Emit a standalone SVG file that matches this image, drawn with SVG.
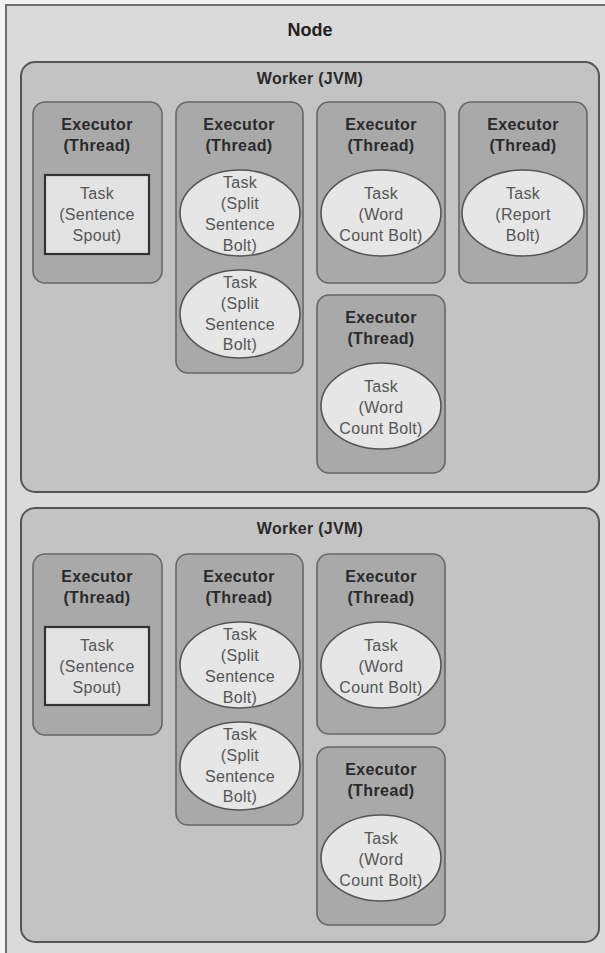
<svg xmlns="http://www.w3.org/2000/svg" width="605" height="953" viewBox="0 0 605 953">
  <style>
    .node-box { fill: #dadada; stroke: #6e6e6e; stroke-width: 2; }
    .worker { fill: #c3c3c3; stroke: #555; stroke-width: 2; }
    .executor { fill: #a9a9a9; stroke: #666; stroke-width: 1.6; }
    .task-rect { fill: #e3e3e3; stroke: #333; stroke-width: 2.2; }
    .task-ell { fill: #e6e6e6; stroke: #555; stroke-width: 1.6; }
    text { font-family: "Liberation Sans", Arial, sans-serif; text-anchor: middle; }
    .title { font-size: 18px; font-weight: bold; fill: #222; }
    .wtitle { font-size: 16px; font-weight: bold; fill: #2a2a2a; letter-spacing: 0.3px; }
    .etitle { font-size: 16px; font-weight: bold; fill: #2a2a2a; letter-spacing: 0.4px; }
    .ttext { font-size: 16px; fill: #555; letter-spacing: 0.3px; }
  </style>

  <rect width="605" height="953" fill="#f2f2f2"/>

  <!-- Physical node -->
  <g id="node">
    <rect class="node-box" x="6" y="5" width="610" height="960"/>
    <text class="title" x="310" y="36">Node</text>
  </g>

  <!-- Worker 1 -->
  <g id="worker1">
    <rect class="worker" x="21" y="62" width="578" height="430" rx="14"/>
    <text class="wtitle" x="310" y="84">Worker (JVM)</text>
  </g>

  <g id="w1-exec-spout">
    <rect class="executor" x="33" y="102" width="129" height="181" rx="12"/>
    <text class="etitle" x="97" y="130">Executor</text>
    <text class="etitle" x="97" y="151">(Thread)</text>
    <rect class="task-rect" x="45" y="175" width="104" height="79"/>
    <text class="ttext" x="97" y="199">Task</text>
    <text class="ttext" x="97" y="220">(Sentence</text>
    <text class="ttext" x="97" y="241">Spout)</text>
  </g>

  <g id="w1-exec-split">
    <rect class="executor" x="176" y="102" width="127" height="271" rx="12"/>
    <text class="etitle" x="239" y="130">Executor</text>
    <text class="etitle" x="239" y="151">(Thread)</text>
    <ellipse class="task-ell" cx="240" cy="213" rx="60" ry="43"/>
    <text class="ttext" x="240" y="188">Task</text>
    <text class="ttext" x="240" y="209">(Split</text>
    <text class="ttext" x="240" y="230">Sentence</text>
    <text class="ttext" x="240" y="251">Bolt)</text>
    <ellipse class="task-ell" cx="240" cy="314" rx="60" ry="44"/>
    <text class="ttext" x="240" y="288">Task</text>
    <text class="ttext" x="240" y="309">(Split</text>
    <text class="ttext" x="240" y="330">Sentence</text>
    <text class="ttext" x="240" y="350">Bolt)</text>
  </g>

  <g id="w1-exec-count-a">
    <rect class="executor" x="317" y="102" width="128" height="181" rx="12"/>
    <text class="etitle" x="381" y="130">Executor</text>
    <text class="etitle" x="381" y="151">(Thread)</text>
    <ellipse class="task-ell" cx="381" cy="213" rx="60" ry="43"/>
    <text class="ttext" x="381" y="199">Task</text>
    <text class="ttext" x="381" y="220">(Word</text>
    <text class="ttext" x="381" y="241">Count Bolt)</text>
  </g>

  <g id="w1-exec-report">
    <rect class="executor" x="459" y="102" width="128" height="181" rx="12"/>
    <text class="etitle" x="523" y="130">Executor</text>
    <text class="etitle" x="523" y="151">(Thread)</text>
    <ellipse class="task-ell" cx="523" cy="213" rx="61" ry="43"/>
    <text class="ttext" x="523" y="199">Task</text>
    <text class="ttext" x="523" y="220">(Report</text>
    <text class="ttext" x="523" y="241">Bolt)</text>
  </g>

  <g id="w1-exec-count-b">
    <rect class="executor" x="317" y="295" width="128" height="178" rx="12"/>
    <text class="etitle" x="381" y="323">Executor</text>
    <text class="etitle" x="381" y="344">(Thread)</text>
    <ellipse class="task-ell" cx="381" cy="406" rx="60" ry="43"/>
    <text class="ttext" x="381" y="392">Task</text>
    <text class="ttext" x="381" y="413">(Word</text>
    <text class="ttext" x="381" y="434">Count Bolt)</text>
  </g>

  <!-- Worker 2 -->
  <g id="worker2">
    <rect class="worker" x="21" y="508" width="578" height="434" rx="14"/>
    <text class="wtitle" x="310" y="534">Worker (JVM)</text>
  </g>

  <g id="w2-exec-spout">
    <rect class="executor" x="33" y="554" width="129" height="181" rx="12"/>
    <text class="etitle" x="97" y="582">Executor</text>
    <text class="etitle" x="97" y="603">(Thread)</text>
    <rect class="task-rect" x="45" y="627" width="104" height="78"/>
    <text class="ttext" x="97" y="651">Task</text>
    <text class="ttext" x="97" y="672">(Sentence</text>
    <text class="ttext" x="97" y="693">Spout)</text>
  </g>

  <g id="w2-exec-split">
    <rect class="executor" x="176" y="554" width="127" height="271" rx="12"/>
    <text class="etitle" x="239" y="582">Executor</text>
    <text class="etitle" x="239" y="603">(Thread)</text>
    <ellipse class="task-ell" cx="240" cy="665" rx="60" ry="43"/>
    <text class="ttext" x="240" y="640">Task</text>
    <text class="ttext" x="240" y="661">(Split</text>
    <text class="ttext" x="240" y="682">Sentence</text>
    <text class="ttext" x="240" y="703">Bolt)</text>
    <ellipse class="task-ell" cx="240" cy="766" rx="60" ry="44"/>
    <text class="ttext" x="240" y="740">Task</text>
    <text class="ttext" x="240" y="761">(Split</text>
    <text class="ttext" x="240" y="782">Sentence</text>
    <text class="ttext" x="240" y="802">Bolt)</text>
  </g>

  <g id="w2-exec-count-a">
    <rect class="executor" x="317" y="554" width="128" height="180" rx="12"/>
    <text class="etitle" x="381" y="582">Executor</text>
    <text class="etitle" x="381" y="603">(Thread)</text>
    <ellipse class="task-ell" cx="381" cy="665" rx="60" ry="43"/>
    <text class="ttext" x="381" y="651">Task</text>
    <text class="ttext" x="381" y="672">(Word</text>
    <text class="ttext" x="381" y="693">Count Bolt)</text>
  </g>

  <g id="w2-exec-count-b">
    <rect class="executor" x="317" y="747" width="128" height="178" rx="12"/>
    <text class="etitle" x="381" y="775">Executor</text>
    <text class="etitle" x="381" y="796">(Thread)</text>
    <ellipse class="task-ell" cx="381" cy="858" rx="60" ry="43"/>
    <text class="ttext" x="381" y="844">Task</text>
    <text class="ttext" x="381" y="865">(Word</text>
    <text class="ttext" x="381" y="886">Count Bolt)</text>
  </g>

  <!-- No connectors in this layout -->
  <g id="connectors"/>
</svg>
